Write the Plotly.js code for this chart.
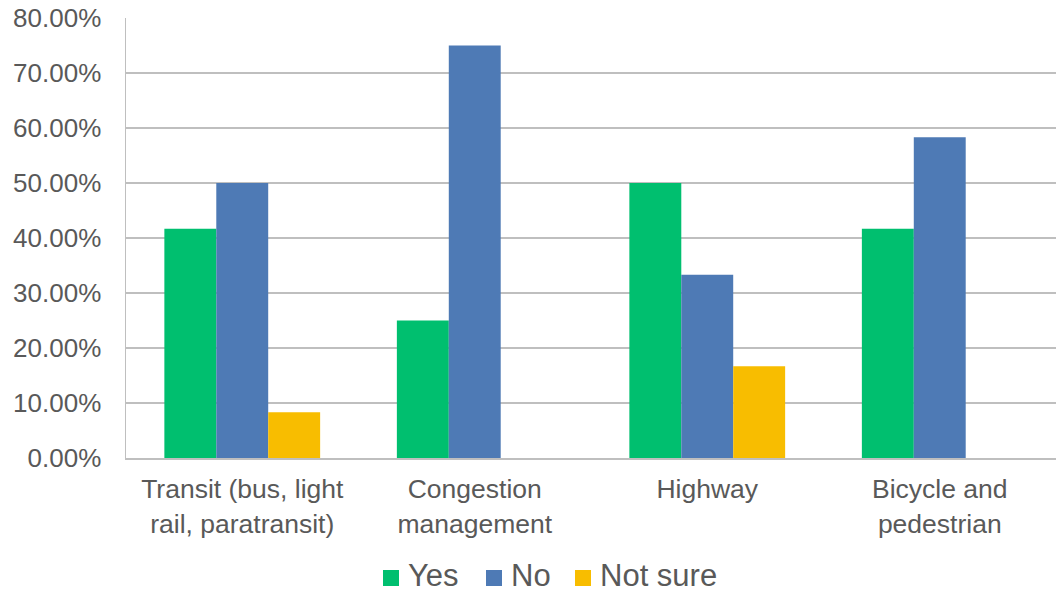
<!DOCTYPE html>
<html>
<head>
<meta charset="utf-8">
<script src="https://cdn.plot.ly/plotly-3.0.1.min.js"></script>
<style>html,body{margin:0;padding:0;background:#fff;}#chart{width:1056px;height:593px;}</style>
</head>
<body>
<div id="chart"></div>
<script>
const categories = ["Transit (bus, light<br>rail, paratransit)", "Congestion<br>management", "Highway", "Bicycle and<br>pedestrian"];
const seriesNames = ["Yes", "No", "Not sure"];
const yesValues = [41.67, 25.0, 50.0, 41.67];
const noValues = [50.0, 75.0, 33.33, 58.33];
const notSureValues = [8.33, 0, 16.67, 0];
const colors = ["#00BF6F", "#4E7AB5", "#F8BD00"];
const yTickVals = [0, 10, 20, 30, 40, 50, 60, 70, 80];
const yTickText = ["0.00%", "10.00%", "20.00%", "30.00%", "40.00%", "50.00%", "60.00%", "70.00%", "80.00%"];

const seriesValues = [yesValues, noValues, notSureValues];
const traces = seriesValues.map((vals, i) => ({
  type: "bar",
  name: seriesNames[i],
  x: categories,
  y: vals,
  marker: { color: colors[i], line: { width: 0 } },
  hoverinfo: "skip",
  showlegend: false
}));

const W = 1056, H = 593;
const M = { l: 126, r: 0, t: 18, b: 135 };
const plotW = W - M.l - M.r, plotH = H - M.t - M.b;
const px2x = p => (p - M.l) / plotW;
const py2y = p => (H - M.b - p) / plotH;

// custom legend (matches the reference's square swatches)
const legendSquareLeft = [383, 486, 575];
const legendTextLeft = [407, 510, 599];
const legendSquareSize = 16;
const legendSquareCenterY = 578;
const legendTextCenterY = 575;

const font = { family: "Liberation Sans, Arial, sans-serif", color: "#595959" };

const shapes = seriesNames.map((n, i) => ({
  type: "rect", xref: "paper", yref: "paper",
  x0: px2x(legendSquareLeft[i]), x1: px2x(legendSquareLeft[i] + legendSquareSize),
  y0: py2y(legendSquareCenterY + legendSquareSize / 2), y1: py2y(legendSquareCenterY - legendSquareSize / 2),
  fillcolor: colors[i], line: { width: 0 }
}));
const annotations = seriesNames.map((n, i) => ({
  xref: "paper", yref: "paper",
  x: px2x(legendTextLeft[i]), y: py2y(legendTextCenterY),
  xanchor: "left", yanchor: "middle",
  text: n, showarrow: false, borderpad: 0,
  font: { family: font.family, color: "#595959", size: 31 }
}));

const layout = {
  width: W,
  height: H,
  margin: { l: M.l, r: M.r, t: M.t, b: M.b, autoexpand: false },
  paper_bgcolor: "#ffffff",
  plot_bgcolor: "#ffffff",
  barmode: "group",
  bargap: 0.33,
  bargroupgap: 0,
  font: font,
  showlegend: false,
  xaxis: {
    showgrid: false,
    showline: true,
    linecolor: "#BFBFBF",
    linewidth: 1.5,
    ticks: "outside",
    ticklen: 7,
    tickcolor: "rgba(0,0,0,0)",
    tickfont: { family: font.family, color: "#595959", size: 26.5 },
    automargin: false,
    fixedrange: true
  },
  yaxis: {
    range: [0, 80],
    tickmode: "array",
    tickvals: yTickVals,
    ticktext: yTickText,
    showgrid: true,
    gridcolor: "#BFBFBF",
    gridwidth: 1.5,
    zeroline: false,
    showline: true,
    linecolor: "#BFBFBF",
    linewidth: 1.5,
    ticks: "outside",
    ticklen: 18,
    tickcolor: "rgba(0,0,0,0)",
    tickfont: { family: font.family, color: "#595959", size: 26 },
    automargin: false,
    fixedrange: true
  },
  shapes: shapes,
  annotations: annotations
};

Plotly.newPlot("chart", traces, layout, { displayModeBar: false, staticPlot: true });
</script>
</body>
</html>
